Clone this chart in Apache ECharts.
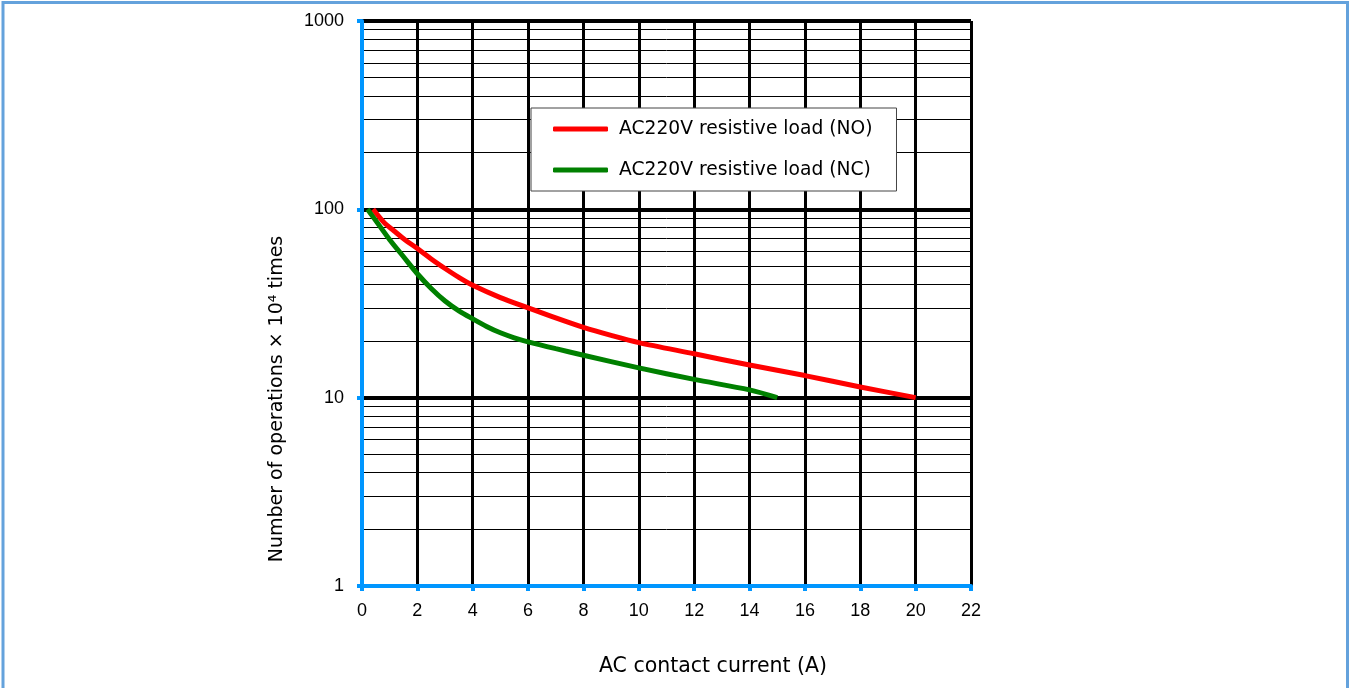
<!DOCTYPE html>
<html>
<head>
<meta charset="utf-8">
<style>
html,body{margin:0;padding:0;background:#fff;}
#chart{width:1351px;height:688px;}
</style>
<script src="https://cdn.jsdelivr.net/npm/echarts@6/dist/echarts.min.js"></script>
</head>
<body>
<div id="chart"></div>
<script>
// ---- data ----
var seriesNames = ['AC220V resistive load (NO)', 'AC220V resistive load (NC)'];
var noLoad = [[0.4,100],[0.8,85],[1.15,77],[1.55,69],[2,62],[2.5,54.5],[3,48.5],[3.5,43.5],[4,39.5],[5,34],[6,30],[7,26.5],[8,23.6],[9,21.4],[10,19.6],[12,17.1],[14,14.9],[16,13.1],[18,11.4],[20,10]];
var ncLoad = [[0.2,100],[0.55,85],[1,69],[1.5,56],[2,45.5],[2.5,38],[3,32.6],[3.5,28.9],[4,26.2],[4.5,23.9],[5,22.1],[5.5,20.8],[6,19.8],[7,18.2],[8,16.8],[10,14.4],[12,12.5],[14,11],[15,10]];
var xTicks = [0,2,4,6,8,10,12,14,16,18,20,22];
var yTicks = [1,10,100,1000];
var minorGrid = [2,3,4,5,6,7,8,9,20,30,40,50,60,70,80,90,200,300,400,500,600,700,800,900];
var xTitle = 'AC contact current (A)';
var yTitle = 'Number of operations × 10⁴ times';

var BLUE = '#0096ff';
var chart = echarts.init(document.getElementById('chart'));
var option = {
  animation: false,
  backgroundColor: '#fff',
  graphic: [{
    type: 'rect', silent: true, z: 100,
    shape: {x: 3, y: 2.5, width: 1344.5, height: 720},
    style: {fill: 'none', stroke: '#64a2dc', lineWidth: 3}
  }],
  grid: {left: 362, right: 380, top: 21, bottom: 102},
  legend: {
    data: seriesNames,
    orient: 'vertical',
    left: 531, top: 108,
    padding: [11, 24, 11, 22],
    itemGap: 21,
    itemWidth: 55, itemHeight: 5,
    icon: 'roundRect',
    backgroundColor: '#fff',
    borderColor: '#444', borderWidth: 1,
    textStyle: {fontFamily: 'DejaVu Sans', fontSize: 18.7, color: '#000', lineHeight: 20, padding: [0,0,0,6]},
    z: 20
  },
  xAxis: [{
    type: 'value', min: 0, max: 22, interval: 2,
    axisLine: {show: false}, axisTick: {show: false},
    axisLabel: {
      margin: 16, color: '#000', fontFamily: 'Liberation Sans', fontSize: 18,
      formatter: function (v) { return xTicks.indexOf(v) >= 0 ? String(v) : ''; }
    },
    splitLine: {show: true, lineStyle: {color: '#000', width: 3}},
    name: xTitle, nameLocation: 'middle', nameGap: 69,
    nameTextStyle: {fontFamily: 'DejaVu Sans', fontSize: 20.5, color: '#000', lineHeight: 24, padding: [0,0,0,93]}
  }, {
    type: 'value', min: 0, max: 22, interval: 2, position: 'bottom', z: 10,
    axisLine: {show: true, lineStyle: {color: BLUE, width: 4}},
    axisTick: {show: true, length: 5, lineStyle: {color: BLUE, width: 4}},
    axisLabel: {show: false},
    splitLine: {show: false}
  }],
  yAxis: [{
    type: 'log', logBase: 10, min: 1, max: 1000,
    axisLine: {show: false}, axisTick: {show: false},
    axisLabel: {
      margin: 18, color: '#000', fontFamily: 'Liberation Sans', fontSize: 18,
      formatter: function (v) { return yTicks.indexOf(v) >= 0 ? String(v) : ''; }
    },
    splitLine: {show: true, lineStyle: {color: '#000', width: 4}},
    name: yTitle, nameLocation: 'middle', nameGap: 74, nameRotate: 90,
    nameTextStyle: {fontFamily: 'DejaVu Sans', fontSize: 19, color: '#000', lineHeight: 22, padding: [0,191,0,0]}
  }, {
    type: 'log', logBase: 10, min: 1, max: 1000, position: 'left', z: 10,
    axisLine: {show: true, lineStyle: {color: BLUE, width: 4}},
    axisTick: {show: true, length: 5, lineStyle: {color: BLUE, width: 4}},
    axisLabel: {show: false},
    splitLine: {show: false}
  }],
  series: [{
    type: 'line', name: '_minor', data: [], z: 1, silent: true,
    markLine: {
      silent: true, symbol: 'none', animation: false,
      label: {show: false},
      lineStyle: {color: '#000', width: 1, type: 'solid'},
      emphasis: {disabled: true},
      data: minorGrid.map(function (v) { return {yAxis: v}; })
    }
  }, {
    type: 'line', name: seriesNames[0], data: noLoad, z: 5,
    smooth: 0.3, showSymbol: false, symbol: 'none',
    lineStyle: {color: '#ff0000', width: 5}, itemStyle: {color: '#ff0000'}
  }, {
    type: 'line', name: seriesNames[1], data: ncLoad, z: 5,
    smooth: 0.3, showSymbol: false, symbol: 'none',
    lineStyle: {color: '#008000', width: 5}, itemStyle: {color: '#008000'}
  }]
};
chart.setOption(option);
</script>
</body>
</html>
